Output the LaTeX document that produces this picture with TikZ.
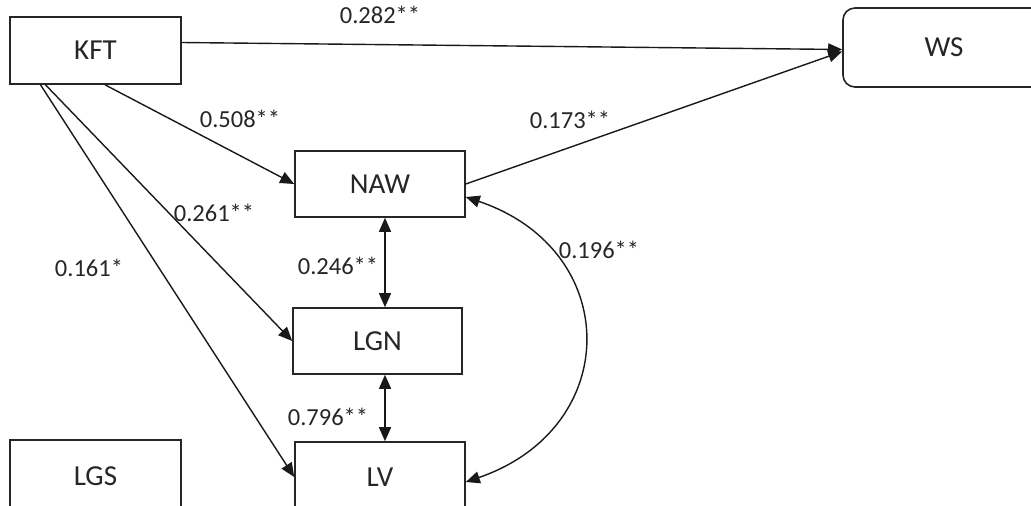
\documentclass[tikz,border=0pt]{standalone}
\usepackage{fontspec}
\setmainfont{Carlito}
\usetikzlibrary{arrows.meta}
\begin{document}
\begin{tikzpicture}[x=1pt,y=-1pt,
  box/.style={draw=black!85, line width=1.6pt, inner sep=0pt, fill=white,
    font=\fontsize{29}{29}\selectfont, text=black!85},
  lab/.style={font=\fontsize{24.5}{24.5}\selectfont, text=black!85, inner sep=0pt},
  arr/.style={-{Triangle[length=14pt,width=12pt]}, line width=1.4pt, draw=black!90},
  darr/.style={{Triangle[length=14pt,width=12pt]}-{Triangle[length=14pt,width=12pt]}, line width=1.4pt, draw=black!90}]
\useasboundingbox (0,0) rectangle (1031,506);
\clip (0,0) rectangle (1031,506);
\node[box, minimum width=171pt, minimum height=67pt] (kft) at (95.5,50.5) {KFT};
\node[box, minimum width=202pt, minimum height=79pt, rounded corners=12pt] (ws) at (944,47.5) {WS};
\node[box, minimum width=170pt, minimum height=66pt] (naw) at (380,184) {NAW};
\node[box, minimum width=169pt, minimum height=66pt] (lgn) at (377.5,341) {LGN};
\node[box, minimum width=170pt, minimum height=70pt] (lv) at (380,477) {LV};
\node[box, minimum width=171pt, minimum height=72pt] (lgs) at (95.5,476) {LGS};

\draw[arr] ([yshift=8pt]kft.east) -- ([yshift=-2pt]ws.west);
\draw[arr] (naw.east) -- ([yshift=-4pt]ws.west);
\draw[arr] ([xshift=9.5pt]kft.south) -- (naw.west);
\draw[arr] ([xshift=-50pt]kft.south) -- (lgn.west);
\draw[arr] ([xshift=-55pt]kft.south) -- (lv.west);
\draw[darr] ([xshift=5pt]naw.south) -- ([xshift=7.5pt]lgn.north);
\draw[darr] ([xshift=7.5pt]lgn.south) -- ([xshift=5pt]lv.north);
\draw[darr] ([yshift=-13pt]naw.east) .. controls (623,250) and (623,428) .. ([yshift=-5pt]lv.east);

\node[lab] (l1) at (380,15) {0.282**};
\node[lab] (l2) at (240,119) {0.508**};
\node[lab] (l3) at (570,120) {0.173**};
\node[lab] (l4) at (214,213) {0.261**};
\node[lab] (l5) at (599,250) {0.196**};
\node[lab] (l6) at (338,266) {0.246**};
\node[lab] (l7) at (89,268) {0.161*};
\node[lab] (l8) at (328,417) {0.796**};
\end{tikzpicture}
\end{document}
